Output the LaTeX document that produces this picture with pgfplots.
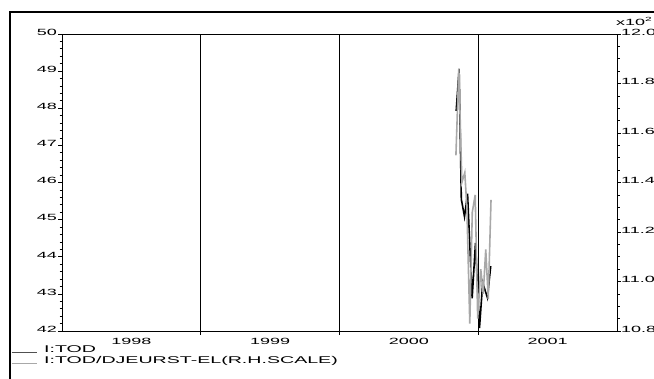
\documentclass[border=0pt]{standalone}
\usepackage{fontspec}
\setmainfont[FakeStretch=2.0]{Liberation Sans}
\usepackage{pgfplots}
\pgfplotsset{compat=1.18}
\definecolor{lgrey}{HTML}{A8A8A8}
\definecolor{dgrey}{HTML}{505050}
\begin{document}
\begin{tikzpicture}[x=1pt,y=1pt]
\useasboundingbox (-62,-48) rectangle (592,331);
\begin{scope}
\clip (-62,-48) rectangle (592,331);
\draw[line width=1.8pt] (-52,-60) -- (-52,319) -- (600,319);
\begin{axis}[at={(0,0)}, anchor=south west, scale only axis,
  width=555pt, height=297pt,
  xmin=1998, xmax=2002, ymin=42, ymax=50,
  axis line style={line width=0.8pt},
  xtick={1999,2000,2001}, xticklabels={},
  xmajorgrids, major grid style={black, line width=0.8pt},
  extra x ticks={1998.5,1999.5,2000.5,2001.5},
  extra x tick labels={1998,1999,2000,2001},
  extra x tick style={grid=none, tick style={draw=none}},
  ytick={42,43,44,45,46,47,48,49,50}, minor y tick num=4,
  ytick pos=left, xtick pos=bottom, tick align=outside,
  major tick length=4pt, minor tick length=2.5pt,
  tick style={black, line width=0.7pt},
  /pgf/number format/assume math mode=true,
  ticklabel style={font=\fontsize{9}{11}\selectfont},
  yticklabel style={anchor=south east, inner sep=0pt, xshift=-1pt, yshift=-1.5pt},
  xticklabel style={inner sep=0pt, yshift=-3pt},
  legend style={at={(rel axis cs:-0.092,-0.045)}, anchor=north west, draw=none, fill=none,
    font=\fontsize{9.8}{9.8}\selectfont, row sep=0.5pt, inner sep=0pt,
    nodes={inner sep=1pt, anchor=west}},
  legend cell align=left,
  legend image code/.code={\draw[#1] (0pt,-2.5pt) -- (25pt,-2.5pt); \path (31pt,0pt);},
]
\addplot[black, line width=1.6pt, forget plot] coordinates {
(2000.841,47.93) (2000.862,49.06) (2000.878,45.55) (2000.901,45.08)
(2000.923,45.70) (2000.956,42.88) (2000.980,44.37) (2001.009,42.08)
(2001.032,43.30) (2001.066,42.90) (2001.090,43.75)
};
\addlegendimage{dgrey, line width=1.0pt}
\addlegendentry{I:TOD}
\addlegendimage{lgrey, line width=1.0pt}
\addlegendentry{I:TOD/DJEURST-EL(R.H.SCALE)}
\end{axis}
\begin{axis}[at={(0,0)}, anchor=south west, scale only axis,
  width=555pt, height=297pt,
  xmin=1998, xmax=2002, ymin=10.8, ymax=12.0,
  axis y line*=right, axis x line=none,
  axis line style={line width=0.8pt},
  ytick={10.8,11.0,11.2,11.4,11.6,11.8,12.0}, minor y tick num=3,
  tick align=outside,
  major tick length=4pt, minor tick length=2.5pt,
  tick style={black, line width=0.7pt},
  /pgf/number format/assume math mode=true,
  yticklabel={\pgfmathprintnumber[fixed,fixed zerofill,precision=1]{\tick}},
  ticklabel style={font=\fontsize{9}{11}\selectfont},
  yticklabel style={anchor=south west, inner sep=0pt, xshift=0pt, yshift=-1.5pt},
]
\addplot[lgrey, line width=1.6pt] coordinates {
(2000.839,11.51) (2000.860,11.86) (2000.882,11.40) (2000.903,11.44)
(2000.918,11.30) (2000.939,10.83) (2000.957,11.28) (2000.978,11.35)
(2000.996,10.85) (2001.018,11.05) (2001.036,10.95) (2001.054,11.13)
(2001.072,10.93) (2001.092,11.33)
};
\end{axis}
\node[anchor=south west, inner sep=0pt, font=\fontsize{9}{11}\selectfont] at (554,305) {x10\textsuperscript{2}};
\end{scope}
\end{tikzpicture}
\end{document}
